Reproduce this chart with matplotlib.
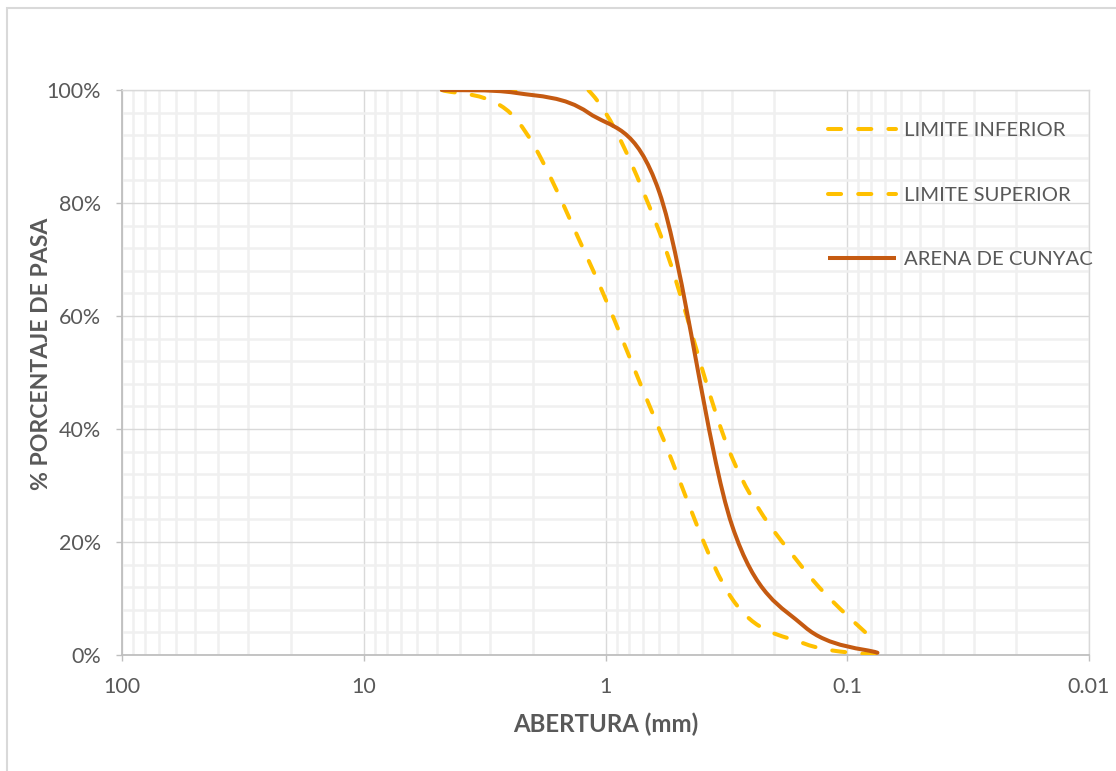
import numpy as np
import matplotlib
matplotlib.use("Agg")
import matplotlib.pyplot as plt
from matplotlib.path import Path
from matplotlib.patches import PathPatch, Rectangle
from matplotlib.lines import Line2D
from matplotlib.ticker import FixedLocator, FuncFormatter, PercentFormatter

plt.rcParams["font.family"] = ["Lato", "DejaVu Sans"]

# Sieve openings (mm) and cumulative percent passing
sieve_mm = [4.75, 2.36, 1.18, 0.60, 0.30, 0.15, 0.075]
limite_inferior = [100, 95, 70, 40, 10, 2, 0]
limite_superior = [100, 100, 100, 75, 35, 15, 2]
arena_cunyac = [100, 99.5, 96, 82, 23, 5, 0.4]

series_labels = ["LIMITE INFERIOR", "LIMITE SUPERIOR", "ARENA DE CUNYAC"]
x_ticks = [100, 10, 1, 0.1, 0.01]
y_ticks = [0, 20, 40, 60, 80, 100]

TEXT = "#595959"
GOLD = "#FFC000"
BROWN = "#C55A11"
MAJOR_GRID = "#D9D9D9"
MINOR_GRID = "#F0F0F0"
AXIS_LINE = "#BFBFBF"


def smooth_path(xs, ys):
    """Smoothed Bezier path through the points, built in log10(x)/y space."""
    u = np.log10(np.asarray(xs, float))
    v = np.asarray(ys, float)
    n = len(u)
    verts = [(xs[0], ys[0])]
    codes = [Path.MOVETO]
    for i in range(n - 1):
        i0 = max(i - 1, 0)
        i3 = min(i + 2, n - 1)
        c1u = u[i] + (u[i + 1] - u[i0]) / 6.0
        c1v = v[i] + (v[i + 1] - v[i0]) / 6.0
        c2u = u[i + 1] - (u[i3] - u[i]) / 6.0
        c2v = v[i + 1] - (v[i3] - v[i]) / 6.0
        verts += [(10 ** c1u, c1v), (10 ** c2u, c2v), (xs[i + 1], ys[i + 1])]
        codes += [Path.CURVE4] * 3
    return Path(verts, codes)


W, H = 1116, 771
fig = plt.figure(figsize=(W / 100, H / 100), dpi=100)
ax = fig.add_axes([122 / W, 1 - 655 / H, (1089 - 122) / W, (655 - 90) / H])

ax.set_xscale("log")
ax.set_xlim(100, 0.01)
ax.set_ylim(0, 100)

# ticks and grid
ax.xaxis.set_major_locator(FixedLocator(x_ticks))
minor_x = [m * 10.0 ** e for e in range(-2, 2) for m in range(2, 10)]
ax.xaxis.set_minor_locator(FixedLocator(minor_x))
ax.xaxis.set_major_formatter(FuncFormatter(lambda val, pos: f"{val:g}"))
ax.yaxis.set_major_locator(FixedLocator(y_ticks))
ax.yaxis.set_minor_locator(FixedLocator([v for v in range(0, 101, 4) if v % 20]))
ax.yaxis.set_major_formatter(PercentFormatter(xmax=100, decimals=0))

ax.grid(which="minor", color=MINOR_GRID, linewidth=1.8, zorder=0)
ax.grid(which="major", color=MAJOR_GRID, linewidth=1.0, zorder=0.5)
ax.set_axisbelow(True)

ax.tick_params(which="major", length=4, width=1.0, color=AXIS_LINE,
               labelsize=15.5, labelcolor=TEXT)
ax.tick_params(axis="x", which="major", pad=12)
ax.tick_params(axis="y", which="major", pad=11)
ax.tick_params(which="minor", length=0)

for side in ("left", "bottom"):
    ax.spines[side].set_color(AXIS_LINE)
    ax.spines[side].set_linewidth(1.3)
for side in ("top", "right"):
    ax.spines[side].set_color(MAJOR_GRID)
    ax.spines[side].set_linewidth(1.0)

# curves
LW = 2.9
dash = (0, (3.25, 4.25))
for values, color, style in [
    (limite_inferior, GOLD, dash),
    (limite_superior, GOLD, dash),
    (arena_cunyac, BROWN, "solid"),
]:
    patch = PathPatch(smooth_path(sieve_mm, values), fill=False,
                      edgecolor=color, linewidth=LW, linestyle=style,
                      capstyle="round", joinstyle="round", zorder=3)
    ax.add_patch(patch)

handles = [
    Line2D([], [], color=GOLD, lw=LW, linestyle=dash, dash_capstyle="round"),
    Line2D([], [], color=GOLD, lw=LW, linestyle=dash, dash_capstyle="round"),
    Line2D([], [], color=BROWN, lw=LW, solid_capstyle="butt"),
]
leg = ax.legend(handles, series_labels, loc="upper left",
                bbox_to_anchor=(828 / W, 1 - 122 / H), bbox_transform=fig.transFigure,
                frameon=False, fontsize=14.6, handlelength=3.35, handletextpad=0.4,
                labelspacing=2.33, borderpad=0, borderaxespad=0)
for t in leg.get_texts():
    t.set_color(TEXT)

ax.set_xlabel("ABERTURA (mm)", fontsize=17.3, fontweight="bold", color=TEXT)
ax.xaxis.set_label_coords(0.5, -(724 - 655) / (655 - 90), transform=ax.transAxes)
ax.xaxis.label.set_va("center")
ax.set_ylabel("% PORCENTAJE DE PASA", fontsize=16.6, fontweight="bold", color=TEXT)
ax.yaxis.set_label_coords(-(122 - 42) / (1089 - 122), (655 - 354) / (655 - 90))
ax.yaxis.label.set_va("center")

# chart area border
fig.add_artist(Rectangle((7 / W, -0.5), 2.0, 0.5 + 1 - 8 / H, transform=fig.transFigure,
                         fill=False, edgecolor="#D9D9D9", linewidth=1.5))

fig.savefig("out.png", dpi=100, facecolor="white")
